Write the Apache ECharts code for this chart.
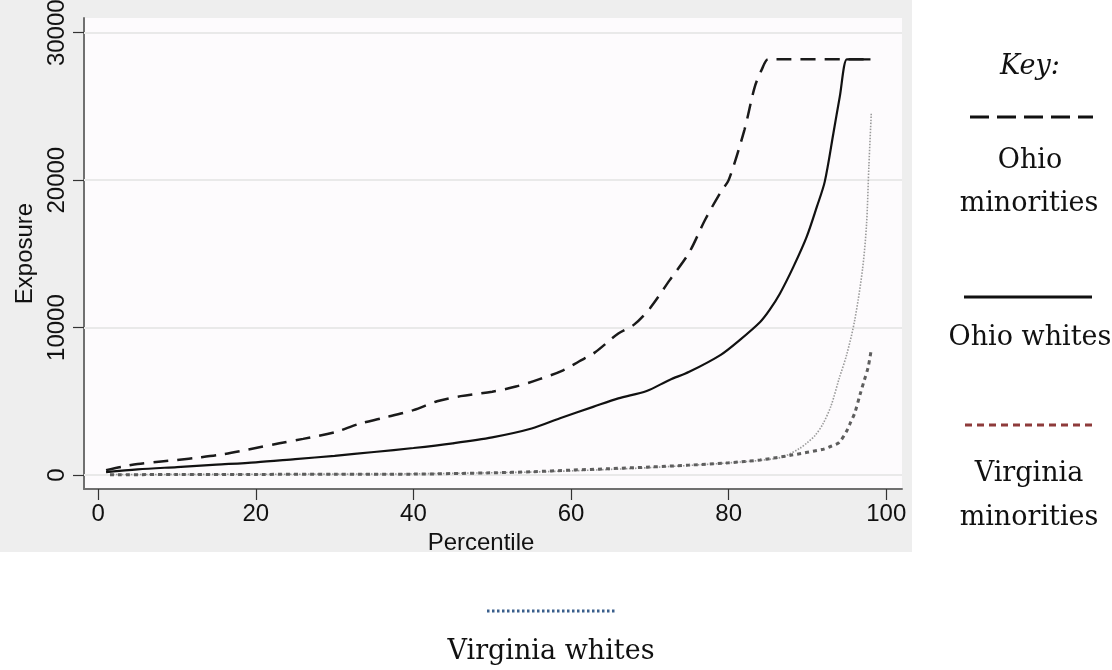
<!DOCTYPE html>
<html>
<head>
<meta charset="utf-8">
<script src="https://cdn.jsdelivr.net/npm/echarts@6/dist/echarts.min.js"></script>
<style>
  html, body { margin: 0; padding: 0; background: #ffffff; }
  #chart { width: 1112px; height: 670px; }
</style>
</head>
<body>
<div id="chart"></div>
<script>
// ---- data ----
const xTicks = [0, 20, 40, 60, 80, 100];
const yTicks = [0, 10000, 20000, 30000];

const ohioMinorities = [
  [1, 330], [3, 560], [5, 750], [8, 920], [10, 1020], [13, 1200], [16, 1420],
  [20, 1830], [23, 2150], [26, 2450], [30, 2900], [33, 3450], [36, 3850],
  [40, 4400], [43, 5000], [46, 5350], [50, 5650], [53, 6000], [56, 6500],
  [59, 7100], [61, 7700], [63, 8300], [66, 9600], [68, 10200], [70, 11300],
  [72.5, 13200], [75, 15100], [77, 17300], [79, 19200], [80, 20000],
  [82, 23400], [83.3, 26300], [84.2, 27500], [85, 28200], [86, 28200], [98, 28200]
];

const ohioWhites = [
  [1, 200], [5, 380], [10, 540], [15, 700], [20, 860], [25, 1080], [30, 1300],
  [35, 1560], [40, 1830], [45, 2150], [50, 2550], [55, 3150], [58.6, 3850],
  [62.8, 4620], [66, 5200], [69.6, 5700], [72.5, 6450], [75, 7000], [79, 8150],
  [81.4, 9150], [84, 10380], [85.2, 11200], [86.5, 12300], [88.2, 14100],
  [89.9, 16150], [91.2, 18200], [92.2, 19900], [93.3, 23200], [94.1, 25650],
  [95, 28200], [95.6, 28200], [98, 28200]
];

const virginiaMinorities = [
  [1.5, 20], [10, 30], [20, 40], [30, 50], [40, 60], [50, 150], [55, 220],
  [60, 330], [65, 430], [70, 540], [75, 670], [80, 830], [84, 1020], [88, 1350],
  [92, 1750], [93, 1950], [94, 2200], [95, 3000], [95.5, 3600], [96, 4200],
  [96.7, 5500], [97.2, 6400], [97.7, 7300], [98.1, 8500]
];

const virginiaWhites = [
  [1.5, 30], [10, 40], [20, 50], [30, 60], [40, 80], [50, 150], [55, 200],
  [60, 280], [65, 380], [70, 500], [75, 650], [80, 820], [85, 1050], [87, 1250],
  [89, 1800], [90, 2200], [91, 2700], [92, 3500], [93, 4700], [94, 6500],
  [95, 8200], [96, 10500], [97, 14000], [97.5, 17000], [97.8, 21000], [98.1, 24500]
];

const keyTitle = 'Key:';

// ---- chart ----
const chart = echarts.init(document.getElementById('chart'), null, { renderer: 'canvas' });

const axisFont = 'Liberation Sans, Arial, Helvetica, sans-serif';
const serifFont = 'DejaVu Serif, Liberation Serif, serif';

const keyTexts = [
  { text: keyTitle, x: 1030, y: 67, italic: true },
  { text: 'Ohio', x: 1030, y: 161 },
  { text: 'minorities', x: 1029, y: 204 },
  { text: 'Ohio whites', x: 1030, y: 338 },
  { text: 'Virginia', x: 1029, y: 474 },
  { text: 'minorities', x: 1029, y: 518 },
  { text: 'Virginia whites', x: 551, y: 652 }
];

const option = {
  backgroundColor: '#ffffff',
  animation: false,
  grid: {
    left: 84, top: 18, width: 818, height: 471,
    containLabel: false, outerBoundsMode: 'none',
    show: true, backgroundColor: '#fdfbfd', borderWidth: 0
  },
  xAxis: {
    type: 'value', min: -1.8, max: 102,
    name: 'Percentile', nameLocation: 'middle', nameGap: 37,
    nameTextStyle: { fontSize: 24, color: '#111', fontFamily: axisFont, padding: [0, 24, 0, 0] },
    axisLine: { show: true, onZero: false, lineStyle: { color: '#707070', width: 2 } },
    axisTick: { show: true, customValues: xTicks, length: 11, lineStyle: { color: '#333', width: 1.2 } },
    axisLabel: { customValues: xTicks, margin: 13, fontSize: 24, color: '#111', fontFamily: axisFont,
      formatter: v => String(v) },
    splitLine: { show: false }
  },
  yAxis: {
    type: 'value', min: -950, max: 31000,
    name: 'Exposure', nameLocation: 'middle', nameGap: 46,
    nameTextStyle: { fontSize: 24, color: '#111', fontFamily: axisFont },
    axisLine: { show: true, onZero: false, lineStyle: { color: '#707070', width: 2 } },
    axisTick: { show: true, customValues: yTicks, length: 11, lineStyle: { color: '#333', width: 1.2 } },
    axisLabel: { customValues: yTicks, rotate: 90, margin: 15, fontSize: 24, color: '#111', fontFamily: axisFont,
      formatter: v => String(v) },
    splitLine: { show: false }
  },
  graphic: [
    { type: 'rect', z: -100, silent: true, shape: { x: 0, y: 0, width: 912, height: 552 }, style: { fill: '#eeeeee' } },
    { type: 'line', silent: true, shape: { x1: 970, y1: 117, x2: 1093, y2: 117 },
      style: { stroke: '#111', lineWidth: 3, lineDash: [19, 8] } },
    { type: 'line', silent: true, shape: { x1: 964, y1: 297, x2: 1092, y2: 297 },
      style: { stroke: '#111', lineWidth: 3 } },
    { type: 'line', silent: true, shape: { x1: 965, y1: 425, x2: 1093, y2: 425 },
      style: { stroke: '#8e3b3b', lineWidth: 3, lineDash: [7, 5] } },
    { type: 'line', silent: true, shape: { x1: 487, y1: 611, x2: 617, y2: 611 },
      style: { stroke: '#3a5f8c', lineWidth: 3, lineDash: [2.5, 2.5] } }
  ].concat(keyTexts.map(t => ({
    type: 'text', silent: true, x: t.x, y: t.y,
    style: {
      text: t.text, fontSize: 27, fontStyle: t.italic ? 'italic' : 'normal',
      fontFamily: serifFont, fill: '#111', align: 'center', verticalAlign: 'middle'
    }
  }))),
  series: [
    {
      name: 'Virginia whites', type: 'line', data: virginiaWhites,
      showSymbol: false, smooth: 0.3,
      lineStyle: { color: '#9a9a9a', width: 1.6, type: [1.5, 1.5] },
      markLine: {
        silent: true, symbol: 'none', z: 1, animation: false,
        label: { show: false },
        lineStyle: { color: '#e9e9e9', width: 2, type: 'solid' },
        data: yTicks.map(v => ({ yAxis: v }))
      }
    },
    {
      name: 'Virginia minorities', type: 'line', data: virginiaMinorities,
      showSymbol: false, smooth: 0.3,
      lineStyle: { color: '#5e5e5e', width: 3, type: [4, 4] }
    },
    {
      name: 'Ohio whites', type: 'line', data: ohioWhites,
      showSymbol: false, smooth: 0.3,
      lineStyle: { color: '#111111', width: 2.2, type: 'solid' }
    },
    {
      name: 'Ohio minorities', type: 'line', data: ohioMinorities,
      showSymbol: false, smooth: 0.3,
      lineStyle: { color: '#1a1a1a', width: 2.5, type: [15, 9] }
    }
  ]
};

chart.setOption(option);
</script>
</body>
</html>
